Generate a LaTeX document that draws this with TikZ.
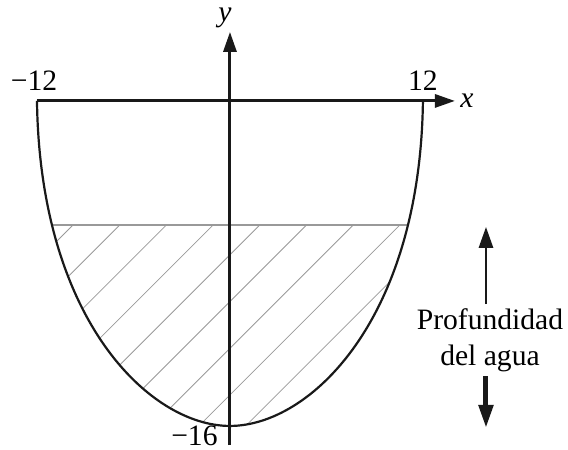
\documentclass[tikz,border=0pt]{standalone}
\usepackage{fontspec}
\setmainfont{Liberation Serif}
\usetikzlibrary{arrows.meta, positioning, calc, intersections}

\begin{document}
\begin{tikzpicture}[
  x=8.04pt, y=10.155pt,
  every node/.style={font=\fontsize{14.8}{18}\selectfont, align=center},
  eje/.style={line width=1.5pt, black!90, -{Triangle[length=10pt, width=6.5pt]}},
  bowl/.style={line width=1.1pt, black!90},
  water/.style={line width=1pt, black!40},
  hatch/.style={line width=0.4pt, black!40},
  tick/.style={inner sep=0pt},
  arr/.style={line width=1.4pt, black!90, -{Triangle[length=10.5pt, width=7pt]}},
  arrgrueso/.style={line width=2.5pt, black!90, -{Triangle[length=11.5pt, width=7pt]}}
]
  \useasboundingbox (-14.30,-17.18) rectangle (21.02,4.97);

  \coordinate (bl) at (-12,0);
  \coordinate (br) at (12,0);
  \coordinate (vx) at (0,-16);
  \coordinate (xr) at (13.99,0);
  \coordinate (yb) at (0,-16.94);
  \coordinate (yt) at (0,3.40);

  % agua rayada
  \begin{scope}
    \clip (bl) .. controls (-11.82,-10.78) and (-4.98,-16) .. (vx)
               .. controls (4.98,-16) and (11.82,-10.78) .. (br) -- cycle;
    \clip (-14,-6.1) rectangle (14,-17);
    \foreach \k in {-3,...,5}
      \draw[hatch] (\k*2.904-1.04,-6.1) -- ++(225:160pt);
  \end{scope}

  \path[name path=bowlpath] (bl) .. controls (-11.82,-10.78) and (-4.98,-16) .. (vx)
        .. controls (4.98,-16) and (11.82,-10.78) .. (br);
  \path[name path=lvl] (-14,-6.1) -- (14,-6.1);
  \path[name intersections={of=bowlpath and lvl, by={wl,wr}}];
  \draw[water] (wl) -- (wr);

  \draw[bowl] (bl) .. controls (-11.82,-10.78) and (-4.98,-16) .. (vx)
              .. controls (4.98,-16) and (11.82,-10.78) .. (br);

  \draw[eje] (bl) -- (xr);
  \draw[eje] (yb) -- (yt);

  \node[tick, above=5pt of bl, xshift=-1.5pt] (mdoce) {−12};
  \node[tick, above=5pt of br] (doce) {12};
  \node[tick, anchor=base east, xshift=-6pt] (mdieciseis) at (yb) {−16};
  \node[tick, right=2.5pt of xr] (ejx) {\textit{x}};
  \node[tick, above=2pt of yt, xshift=-2.5pt] (ejy) {\textit{y}};

  \node[inner sep=2pt] (prof) at (16.17,-11.77) {Profundidad\\del agua};
  \coordinate (sup) at (15.92,-6.2);
  \coordinate (inf) at (15.92,-16.1);
  \draw[arr] (sup |- prof.north) -- (sup);
  \draw[arrgrueso] (inf |- prof.south) -- (inf);
\end{tikzpicture}
\end{document}
